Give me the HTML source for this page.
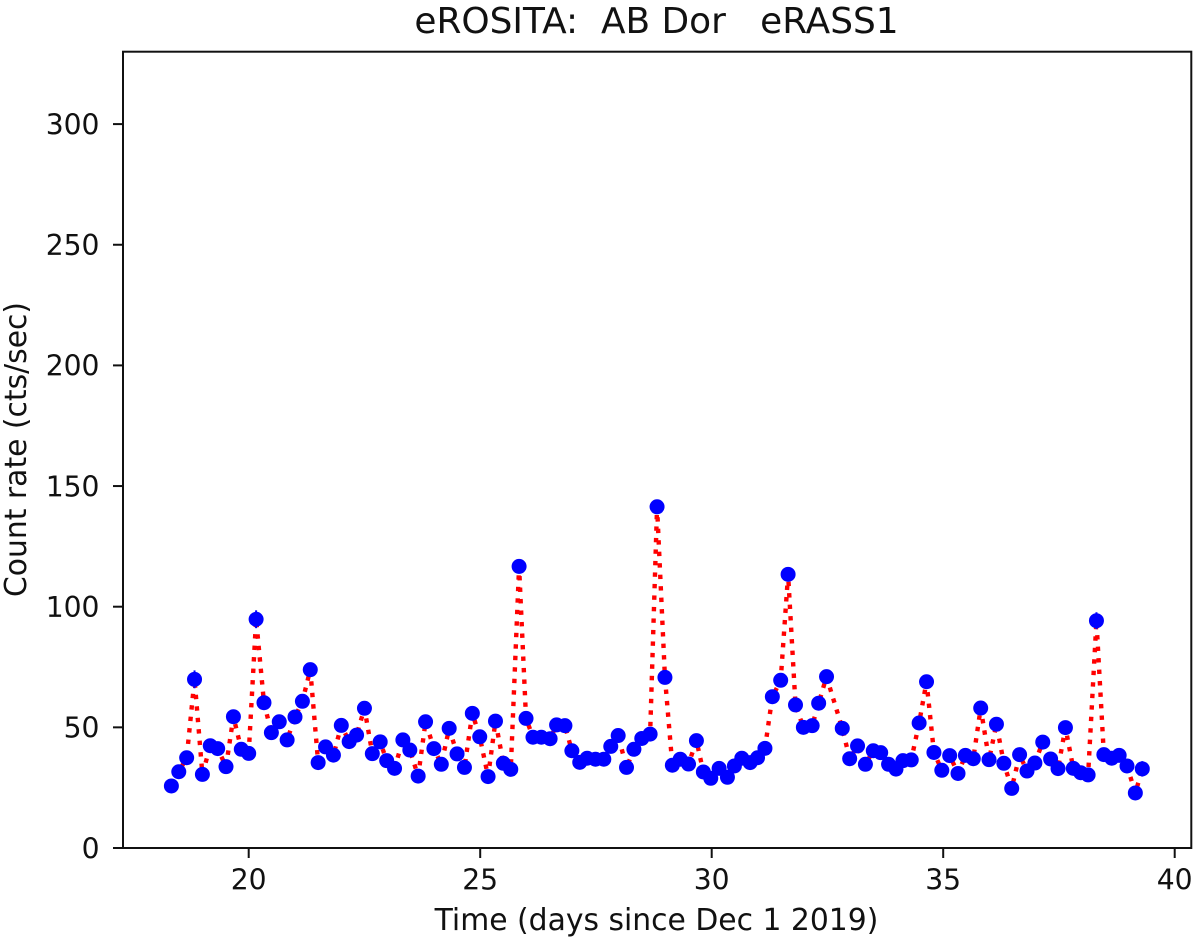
<!DOCTYPE html>
<html>
<head>
<meta charset="utf-8">
<title>eROSITA: AB Dor eRASS1</title>
<style>
html,body{margin:0;padding:0;background:#fff;width:1200px;height:944px;overflow:hidden}
svg{display:block}
text{font-family:"DejaVu Sans",sans-serif;fill:#111;white-space:pre}
</style>
</head>
<body>
<svg id="chart" xmlns="http://www.w3.org/2000/svg" width="1200" height="944" viewBox="0 0 1200 944">
  <text x="656.5" y="33" font-size="35.9" text-anchor="middle" xml:space="preserve">eROSITA:  AB Dor   eRASS1</text>
  <text x="656.5" y="930" font-size="29.8" text-anchor="middle">Time (days since Dec 1 2019)</text>
  <text transform="translate(26,449.5) rotate(-90)" font-size="29.8" text-anchor="middle">Count rate (cts/sec)</text>
  <g id="marks"></g>
  <g id="axes"></g>
</svg>
<script>
const times = [18.33,18.49,18.66,18.83,19.00,19.17,19.33,19.51,19.67,19.84,20.00,20.16,20.33,20.49,20.66,20.83,21.00,21.16,21.33,21.50,21.66,21.83,22.00,22.17,22.33,22.50,22.67,22.84,22.98,23.15,23.33,23.48,23.66,23.82,24.00,24.16,24.33,24.50,24.66,24.83,24.99,25.17,25.33,25.50,25.66,25.84,25.99,26.14,26.32,26.51,26.65,26.83,26.98,27.15,27.31,27.49,27.67,27.82,27.98,28.16,28.32,28.49,28.67,28.82,28.99,29.15,29.32,29.50,29.67,29.82,29.98,30.16,30.34,30.49,30.65,30.83,30.99,31.15,31.31,31.49,31.65,31.81,31.98,32.17,32.31,32.48,32.82,32.98,33.15,33.32,33.49,33.65,33.82,33.98,34.13,34.31,34.48,34.64,34.80,34.97,35.14,35.32,35.48,35.65,35.81,35.99,36.15,36.31,36.48,36.65,36.81,36.98,37.15,37.32,37.48,37.64,37.81,37.97,38.13,38.31,38.47,38.64,38.80,38.97,39.15,39.30];
const rates = [25.7,31.6,37.4,69.9,30.5,42.4,41.2,33.7,54.4,40.9,39.2,94.8,60.2,47.8,52.3,44.8,54.3,60.8,73.9,35.4,41.9,38.5,50.8,44.1,46.8,57.9,39.1,44.0,36.2,33.0,44.8,40.6,29.8,52.3,41.2,34.7,49.6,39.0,33.4,55.8,46.1,29.6,52.6,35.1,32.6,116.7,53.7,45.9,45.9,45.3,51.0,50.7,40.3,35.5,37.2,36.8,36.8,42.1,46.6,33.4,40.9,45.4,47.2,141.4,70.7,34.3,36.8,34.8,44.5,31.5,28.9,33.0,29.3,34.0,37.2,35.4,37.4,41.3,62.7,69.5,113.4,59.3,50.0,50.7,60.0,71.0,49.6,37.0,42.3,34.7,40.3,39.5,34.7,32.7,36.2,36.5,51.8,68.9,39.6,32.2,38.3,30.9,38.4,37.0,58.0,36.6,51.3,35.1,24.7,38.7,31.9,35.2,43.9,36.9,32.9,49.9,33.0,31.2,30.3,94.2,38.7,37.2,38.4,34.0,22.8,32.8];
const rateErrors = [1.5,1.5,2,3.7,1.5,2,2,1.5,2.4,2,2,3.7,2.5,2,2,2,2.3,2.4,2.8,1.6,2,1.8,2.2,2,2,2.4,1.8,2,1.7,1.6,2,1.9,1.5,2.2,2,1.6,2.1,1.8,1.6,2.3,2,1.5,2.2,1.7,1.6,3,2.3,2,2,2,2.2,2.2,1.9,1.7,1.7,1.7,1.7,1.9,2,1.6,1.9,2,2.1,3,2.6,1.6,1.7,1.6,2,1.5,1.4,1.6,1.4,1.6,1.7,1.7,1.7,1.9,2.5,2.6,2.8,2.4,2.2,2.2,2.4,2.7,2.2,1.7,1.9,1.6,1.9,1.8,1.6,1.5,1.7,1.7,2.2,2.6,1.8,1.5,1.8,1.5,1.8,1.7,2.4,1.7,2.2,1.6,1.3,1.8,1.5,1.6,2,1.7,1.5,2.1,1.5,1.5,1.5,3.5,1.8,1.7,1.8,1.6,1.3,3.2];
const xTicks = [20,25,30,35,40];
const yTicks = [0,50,100,150,200,250,300];

const NS = 'http://www.w3.org/2000/svg';
const plotBox = {left:123, right:1191.3, top:51.7, bottom:848};
const xScale = d => 248.7 + (d - 20) * 46.3;
const yScale = v => 848 - v * 2.413;
const marks = document.getElementById('marks');
const axes = document.getElementById('axes');

function make(tag, attrs, parent){
  const el = document.createElementNS(NS, tag);
  for (const k in attrs) el.setAttribute(k, attrs[k]);
  parent.appendChild(el);
  return el;
}

// dotted series line
const linePts = times.map((t,i) => xScale(t).toFixed(2) + ',' + yScale(rates[i]).toFixed(2)).join(' ');
const line = make('polyline', {points:linePts, fill:'none', stroke:'#ff0000', 'stroke-width':4.4, 'stroke-dasharray':'4.4 7.1', 'stroke-linejoin':'round'}, marks);



// error bars and points
times.forEach((t,i) => {
  const bar = make('line', {x1:xScale(t), x2:xScale(t), y1:yScale(rates[i]-rateErrors[i]), y2:yScale(rates[i]+rateErrors[i]), stroke:'#0000ff', 'stroke-width':2}, marks);
  
  
});
times.forEach((t,i) => {
  const pt = make('circle', {cx:xScale(t), cy:yScale(rates[i]), r:7.5, fill:'#0000ff'}, marks);
  
  
});

// frame
const frame = make('rect', {x:plotBox.left, y:plotBox.top, width:plotBox.right-plotBox.left, height:plotBox.bottom-plotBox.top, fill:'none', stroke:'#111', 'stroke-width':2}, axes);



// ticks
xTicks.forEach(v => {
  const x = xScale(v);
  const tick = make('line', {x1:x, x2:x, y1:plotBox.bottom, y2:plotBox.bottom+10, stroke:'#111', 'stroke-width':2}, axes);
  
  
  const label = make('text', {x:x, y:889.5, 'font-size':28.2, 'text-anchor':'middle'}, axes);
  label.textContent = v;
  
  
});
yTicks.forEach(v => {
  const y = yScale(v);
  const tick = make('line', {x1:plotBox.left-10, x2:plotBox.left, y1:y, y2:y, stroke:'#111', 'stroke-width':2}, axes);
  
  
  const label = make('text', {x:99.5, y:y+10.3, 'font-size':28.2, 'text-anchor':'end'}, axes);
  label.textContent = v;
  
  
});
</script>
</body>
</html>
